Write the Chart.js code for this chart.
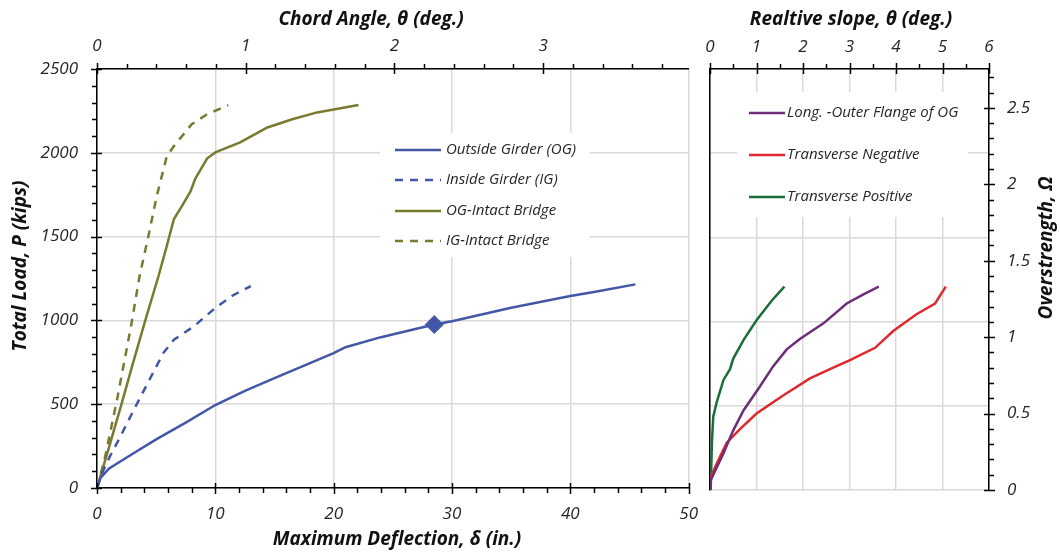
<!DOCTYPE html>
<html lang="en">
<head>
<meta charset="UTF-8">
<title>Girder load-deflection and overstrength</title>
<script src="https://cdn.jsdelivr.net/npm/chart.js"></script>
<style>
  body { margin: 0; background: #fff; }
  #wrap { position: relative; width: 1060px; height: 554px; }
  canvas { position: absolute; top: 0; }
  #left { left: 0; }
  #right { left: 690px; }
</style>
</head>
<body>
<div id="wrap">
  <canvas id="left" width="714" height="554"></canvas>
  <canvas id="right" width="370" height="554"></canvas>
</div>
<script>
// left panel: maximum deflection (in.) vs total load (kips)
const ogDefl  = [0, 0.3, 1, 2, 3.5, 5, 7.5, 10, 12.5, 15, 17.5, 20, 21, 24, 28.5, 30, 35, 40, 42, 45.5];
const ogLoad  = [0, 60, 115, 160, 225, 290, 390, 495, 580, 655, 730, 805, 840, 900, 975, 995, 1075, 1145, 1170, 1215];
const igDefl  = [0, 0.5, 1.1, 2, 3.1, 4.5, 5.6, 6.5, 8.2, 10, 11.5, 13];
const igLoad  = [0, 100, 190, 310, 465, 655, 805, 885, 965, 1075, 1150, 1205];
const ogiDefl = [0, 1, 2.1, 3, 4.1, 5.2, 5.9, 6.5, 7.2, 7.9, 8.3, 9.3, 10, 12.1, 14.4, 16.5, 18.6, 22.1];
const ogiLoad = [0, 240, 508, 735, 1005, 1265, 1445, 1605, 1685, 1770, 1845, 1966, 2002, 2062, 2151, 2200, 2241, 2285];
const igiDefl = [0, 0.7, 1.7, 2.9, 3.6, 4.35, 5.06, 5.9, 6.5, 8.0, 9.3, 11.1];
const igiLoad = [0, 190, 530, 975, 1265, 1505, 1745, 1980, 2040, 2170, 2230, 2285];
const markDefl = [28.5];
const markLoad = [975];

// right panel: relative slope (deg.) vs overstrength
const longSlope  = [0, 0.01, 0.29, 0.5, 0.72, 1.08, 1.36, 1.65, 1.94, 2.44, 2.94, 3.3, 3.63];
const longOmega  = [0, 0.06, 0.24, 0.39, 0.52, 0.68, 0.81, 0.92, 0.99, 1.09, 1.22, 1.28, 1.33];
const negSlope   = [0.01, 0.14, 0.36, 0.65, 1.0, 1.58, 2.15, 2.65, 3.01, 3.55, 3.94, 4.44, 4.84, 5.07];
const negOmega   = [0.08, 0.17, 0.31, 0.40, 0.50, 0.62, 0.73, 0.80, 0.85, 0.93, 1.04, 1.15, 1.22, 1.33];
const posSlope   = [0.015, 0.04, 0.07, 0.14, 0.29, 0.43, 0.5, 0.72, 1.0, 1.33, 1.6];
const posOmega   = [0, 0.30, 0.48, 0.57, 0.72, 0.79, 0.86, 0.98, 1.11, 1.24, 1.33];

const FONT = '"Open Sans", Lato, sans-serif';
const GRID = '#d9d9d9';
const TXT = '#262626';
const tickFont = { family: FONT, size: 17, style: 'italic' };
const BLUE = '#4356a8', OLIVE = '#797a30', PURPLE = '#6e2d78', RED = '#e0282f', GREEN = '#1b6e3c';

Chart.defaults.color = TXT;
Chart.defaults.font.family = FONT;

function pts(xs, ys) {
  return xs.map((x, i) => ({ x: x, y: ys[i] }));
}

function lineSet(label, xs, ys, color, dash) {
  return {
    label: label, data: pts(xs, ys),
    borderColor: color, backgroundColor: color,
    borderWidth: 2.5, borderDash: dash || [],
    pointRadius: 0, fill: false, tension: 0
  };
}

// black tick marks, majors cross the axis line, minors point outward
const tickMarks = {
  id: 'tickMarks',
  afterDraw(chart, args, opts) {
    const ctx = chart.ctx;
    ctx.save();
    ctx.strokeStyle = '#000';
    ctx.lineWidth = 1.5;
    (opts.axes || []).forEach(a => {
      const s = chart.scales[a.id];
      const n = Math.floor(s.max / a.minor + 1e-6);
      for (let i = 0; i <= n; i++) {
        const v = i * a.minor;
        const major = Math.abs(v / a.major - Math.round(v / a.major)) < 1e-6;
        const p = Math.round(s.getPixelForValue(v)) + 0.5;
        const inn = major ? 5 : 0, out = major ? 6 : 5;
        ctx.beginPath();
        if (s.position === 'bottom') { ctx.moveTo(p, s.top - inn); ctx.lineTo(p, s.top + out); }
        else if (s.position === 'top') { ctx.moveTo(p, s.bottom + inn); ctx.lineTo(p, s.bottom - out); }
        else if (s.position === 'left') { ctx.moveTo(s.right + inn, p); ctx.lineTo(s.right - out, p); }
        else { ctx.moveTo(s.left - inn, p); ctx.lineTo(s.left + out, p); }
        ctx.stroke();
      }
    });
    ctx.restore();
  }
};

// axis titles and the boxed legend
const decor = {
  id: 'decor',
  afterDraw(chart, args, opts) {
    const ctx = chart.ctx;
    ctx.save();
    const lg = opts.legend;
    if (lg) {
      ctx.fillStyle = '#fff';
      ctx.fillRect(lg.x, lg.y, lg.w, lg.h);
      const sets = chart.data.datasets.filter(d => d.inLegend);
      sets.forEach((d, i) => {
        const y = lg.rows[i];
        ctx.strokeStyle = d.borderColor;
        ctx.lineWidth = d.borderWidth;
        ctx.setLineDash(d.borderDash);
        ctx.beginPath();
        ctx.moveTo(lg.x0, y);
        ctx.lineTo(lg.x1, y);
        ctx.stroke();
        ctx.setLineDash([]);
        ctx.fillStyle = TXT;
        ctx.font = 'italic ' + lg.size + 'px ' + FONT;
        ctx.textAlign = 'left';
        ctx.textBaseline = 'middle';
        ctx.fillText(d.label, lg.tx, y);
      });
    }
    (opts.titles || []).forEach(t => {
      ctx.save();
      ctx.translate(t.x, t.y);
      if (t.rot) ctx.rotate(-Math.PI / 2);
      ctx.fillStyle = '#111';
      ctx.font = 'italic bold 19px ' + FONT;
      ctx.textAlign = 'center';
      ctx.textBaseline = 'middle';
      ctx.fillText(t.text, 0, 0);
      ctx.restore();
    });
    ctx.restore();
  }
};

const og = lineSet('Outside Girder (OG)', ogDefl, ogLoad, BLUE);
const ig = lineSet('Inside Girder (IG)', igDefl, igLoad, BLUE, [8, 7]);
const ogi = lineSet('OG-Intact Bridge', ogiDefl, ogiLoad, OLIVE);
const igi = lineSet('IG-Intact Bridge', igiDefl, igiLoad, OLIVE, [8, 7]);
[og, ig, ogi, igi].forEach(d => { d.inLegend = true; });

new Chart(document.getElementById('left'), {
  type: 'line',
  data: {
    datasets: [og, ig, ogi, igi, {
      label: 'marker', data: pts(markDefl, markLoad),
      showLine: false, pointStyle: 'rectRot', pointRadius: 9,
      backgroundColor: BLUE, borderColor: BLUE, borderWidth: 1
    }]
  },
  options: {
    responsive: false, animation: false, devicePixelRatio: 1,
    layout: { padding: { left: 0, right: 13, top: 0, bottom: 0 } },
    plugins: {
      legend: { display: false }, tooltip: { enabled: false },
      tickMarks: { axes: [
        { id: 'x', major: 10, minor: 2 },
        { id: 'x2', major: 1, minor: 0.2 },
        { id: 'y', major: 500, minor: 100 }
      ] },
      decor: {
        legend: { x: 380, y: 133, w: 210, h: 124, x0: 395, x1: 441, tx: 446, size: 15, rows: [150, 180, 211, 241] },
        titles: [
          { text: 'Chord Angle, \u03b8 (deg.)', x: 371, y: 20 },
          { text: 'Maximum Deflection, \u03b4 (in.)', x: 397, y: 540 },
          { text: 'Total Load, P (kips)', x: 21, y: 266, rot: true }
        ]
      }
    },
    scales: {
      x: {
        type: 'linear', position: 'bottom', min: 0, max: 50,
        ticks: { stepSize: 10, padding: 16, font: tickFont, maxRotation: 0 },
        grid: { color: GRID, lineWidth: 1.5, drawTicks: false },
        border: { color: '#000', width: 1.5 },
        afterFit: s => { s.height = 66; }
      },
      x2: {
        type: 'linear', position: 'top', min: 0, max: 3.978,
        ticks: { stepSize: 1, padding: 13, font: tickFont, maxRotation: 0,
          callback: v => Number.isInteger(v) ? v : '' },
        grid: { drawOnChartArea: false, drawTicks: false },
        border: { color: '#000', width: 1.5 },
        afterFit: s => { s.height = 69; }
      },
      y: {
        type: 'linear', position: 'left', min: 0, max: 2500,
        ticks: { stepSize: 500, padding: 19, font: tickFont, callback: v => String(v) },
        grid: { color: GRID, lineWidth: 1.5, drawTicks: false },
        border: { color: '#000', width: 1.5 },
        afterFit: s => { s.width = 97; }
      }
    }
  },
  plugins: [tickMarks, decor]
});

const rightSets = [
  lineSet('Long. -Outer Flange of OG', longSlope, longOmega, PURPLE),
  lineSet('Transverse Negative', negSlope, negOmega, RED),
  lineSet('Transverse Positive', posSlope, posOmega, GREEN)
];
rightSets.forEach(d => { d.inLegend = true; d.xAxisID = 'xt'; d.yAxisID = 'yr'; });

new Chart(document.getElementById('right'), {
  type: 'line',
  data: { datasets: rightSets },
  options: {
    responsive: false, animation: false, devicePixelRatio: 1,
    layout: { padding: { left: 0, right: 0, top: 0, bottom: 64 } },
    plugins: {
      legend: { display: false }, tooltip: { enabled: false },
      tickMarks: { axes: [
        { id: 'xt', major: 1, minor: 0.5 },
        { id: 'yr', major: 0.5, minor: 0.1 }
      ] },
      decor: {
        legend: { x: 47, y: 92, w: 231, h: 125, x0: 59, x1: 95, tx: 97, size: 15, rows: [113, 155, 197] },
        titles: [
          { text: 'Realtive slope, \u03b8 (deg.)', x: 161, y: 20 },
          { text: 'Overstrength, \u03a9', x: 357, y: 248, rot: true }
        ]
      }
    },
    scales: {
      xt: {
        type: 'linear', position: 'top', min: 0, max: 6,
        ticks: { stepSize: 1, padding: 12, font: tickFont, maxRotation: 0 },
        grid: { color: GRID, lineWidth: 1.5, drawTicks: false },
        border: { color: '#000', width: 1.5 },
        afterFit: s => { s.height = 69; }
      },
      yl: {
        type: 'linear', position: 'left', min: 0, max: 2500,
        ticks: { stepSize: 500, display: false },
        grid: { color: GRID, lineWidth: 1.5, drawTicks: false },
        border: { color: '#000', width: 1.5 },
        afterFit: s => { s.width = 20; }
      },
      yr: {
        type: 'linear', position: 'right', min: 0, max: 2.754,
        ticks: { stepSize: 0.5, padding: 18, font: tickFont,
          callback: v => Math.abs(v * 2 - Math.round(v * 2)) < 1e-9 ? v : '' },
        grid: { drawOnChartArea: false, drawTicks: false },
        border: { color: '#000', width: 1.5 },
        afterFit: s => { s.width = 71; }
      }
    }
  },
  plugins: [tickMarks, decor]
});
</script>
</body>
</html>
